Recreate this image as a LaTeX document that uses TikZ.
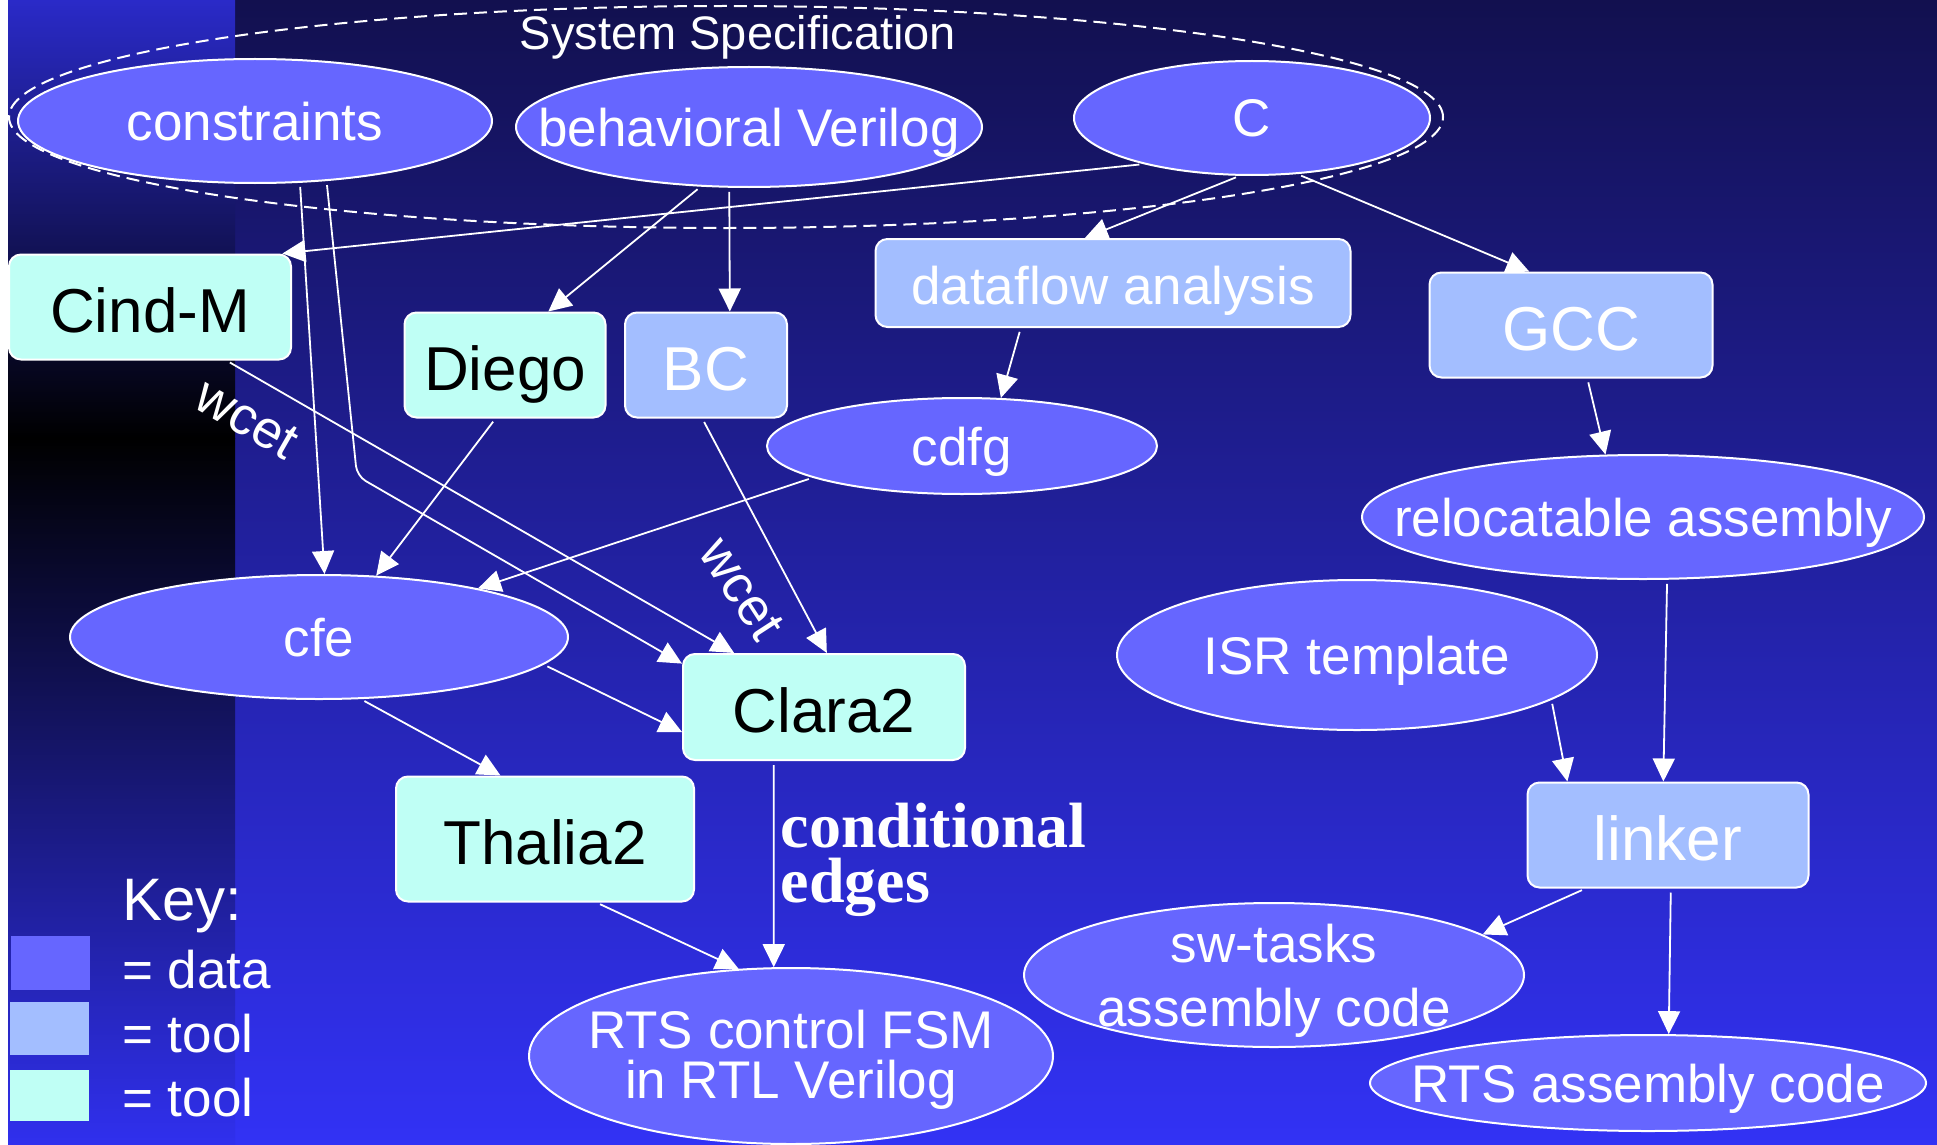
\documentclass[tikz,border=0pt]{standalone}
\usepackage{fontspec}
\setmainfont{Liberation Sans}
\newfontfamily\condserif{Liberation Serif}
\usepackage{tikz}
\usetikzlibrary{shapes.geometric,arrows.meta}

\definecolor{datablue}{HTML}{6666FF}
\definecolor{toolblue}{HTML}{A3BEFF}
\definecolor{toolcyan}{HTML}{BFFFF5}
\definecolor{bgtop}{HTML}{12104F}
\definecolor{bgbottom}{HTML}{3232F5}
\definecolor{striptop}{HTML}{2A2AC8}
\definecolor{stripbottom}{HTML}{3030EE}

\newcommand\datafont{\fontsize{53}{59}\selectfont}
\newcommand\toolfont{\fontsize{62}{70}\selectfont}

\begin{document}
\begin{tikzpicture}[x=1pt, y=-1pt,
    datanode/.style={ellipse, draw=white, line width=2pt, fill=datablue, inner sep=0pt},
    datatext/.style={text=white, font=\datafont, align=center, inner sep=0pt, text depth=0pt},
    tool/.style={rectangle, rounded corners=12pt, draw=white, line width=2pt, inner sep=0pt,
        font=\toolfont, text height=50pt, text depth=0pt},
    lighttool/.style={tool, fill=toolblue, text=white},
    cyantool/.style={tool, fill=toolcyan, text=black},
    keytext/.style={text=white, font=\datafont, anchor=base west, inner sep=0pt},
    wcetlabel/.style={text=white, font=\datafont, inner sep=0pt},
    condlabel/.style={text=white, font=\condserif\bfseries\fontsize{64}{55}\selectfont, align=left, inner sep=0pt},
    flowedge/.style={draw=white, line width=1.8pt, -{Triangle[length=23pt,width=22pt]}, shorten <=4pt}]

    \useasboundingbox (0,0) rectangle (1937,1145);
    % background
    \fill[white] (0,0) rectangle (1937,1145);
    \shade[top color=bgtop, bottom color=bgbottom] (8,0) rectangle (1937,1145);
    \shade[top color=striptop, bottom color=black] (8,0) rectangle (235,438);
    \shade[top color=black, bottom color=stripbottom] (8,438) rectangle (235,1145);

    % system specification
    \node[ellipse, draw=white, line width=2pt, dash pattern=on 13pt off 7pt,
          minimum width=1434pt, minimum height=222pt, inner sep=0pt] (sysspec) at (726,117) {};
    \node[text=white, font=\fontsize{47}{55}\selectfont, anchor=base] (spectitle) at (738,50) {System Specification};

    % data
    \node[datanode, minimum width=474pt, minimum height=124pt, label={[datatext]center:constraints}] (constraints) at (255,121) {};
    \node[datanode, minimum width=466pt, minimum height=120pt, label={[datatext]center:behavioral Verilog}] (behavioral) at (749,127) {};
    \node[datanode, minimum width=356pt, minimum height=114pt, label={[datatext]center:C}] (cnode) at (1252,118) {};
    \node[datanode, minimum width=390pt, minimum height=96pt, label={[datatext]center:cdfg}] (cdfg) at (962,446) {};
    \node[datanode, minimum width=562pt, minimum height=124pt, label={[datatext]center:relocatable assembly}] (reloc) at (1643,517) {};
    \node[datanode, minimum width=498pt, minimum height=124pt, label={[datatext]center:cfe}] (cfe) at (319,637) {};
    \node[datanode, minimum width=480pt, minimum height=150pt, label={[datatext]center:ISR template}] (isr) at (1357,655) {};
    \node[datanode, minimum width=500pt, minimum height=144pt,
          label={[datatext, font=\fontsize{53}{64}\selectfont]center:{sw-tasks\\assembly code}}] (swtasks) at (1274,975) {};
    \node[datanode, minimum width=524pt, minimum height=176pt,
          label={[datatext, font=\fontsize{53}{50}\selectfont, yshift=2pt]center:{RTS control FSM\\in RTL Verilog}}] (rtsfsm) at (791,1056) {};
    \node[datanode, minimum width=556pt, minimum height=96pt, label={[datatext]center:RTS assembly code}] (rtsasm) at (1648,1083) {};

    % tools
    \node[cyantool, minimum width=282pt, minimum height=105pt] (cindm) at (150,307) {Cind-M};
    \node[cyantool, minimum width=201pt, minimum height=105pt] (diego) at (505,365) {Diego};
    \node[lighttool, minimum width=162pt, minimum height=105pt] (bc) at (706,365) {BC};
    \node[lighttool, minimum width=475pt, minimum height=88pt, font=\datafont, text height=42pt] (dataflow) at (1113,283) {dataflow analysis};
    \node[lighttool, minimum width=283pt, minimum height=105pt] (gcc) at (1571,325) {GCC};
    \node[cyantool, minimum width=282pt, minimum height=106pt] (clara) at (824,707) {Clara2};
    \node[cyantool, minimum width=298pt, minimum height=125pt] (thalia) at (545,839) {Thalia2};
    \node[lighttool, minimum width=281pt, minimum height=105pt] (linker) at (1668,835) {linker};

    % key
    \node[text=white, font=\fontsize{60}{70}\selectfont, anchor=base west, inner sep=0pt] (keytitle) at (122,920) {Key:};
    \node[fill=datablue, minimum width=79pt, minimum height=54pt, inner sep=0pt] (keydata) at (50.5,963) {};
    \node[fill=toolblue, minimum width=79pt, minimum height=53pt, inner sep=0pt] (keytool) at (49,1028.5) {};
    \node[fill=toolcyan, minimum width=79pt, minimum height=51pt, inner sep=0pt] (keycyan) at (49,1095.5) {};
    \node[keytext] (keydatatext) at (122,988) {= data};
    \node[keytext] (keytooltext) at (122,1052) {= tool};
    \node[keytext] (keycyantext) at (122,1116) {= tool};

    % edges
    \coordinate (bend) at (357,476);
    \draw (constraints.-54) edge[flowedge] (cfe.85);
    \draw[flowedge, rounded corners=10pt] (constraints.-40) -- (bend) -- (clara.163);
    \draw (cindm.-35) edge[flowedge] node[wcetlabel, pos=.08, sloped, below=22pt] {wcet} (clara.149);
    \draw (cnode.203) edge[flowedge] (cindm.22);
    \draw (behavioral.-129) edge[flowedge] (diego.51);
    \draw (behavioral.-108.5) edge[flowedge] (bc.66);
    \draw (cnode.-102) edge[flowedge] (dataflow.122.5);
    \draw (cnode.-51.4) edge[flowedge] (gcc.128);
    \draw (dataflow.-154.7) edge[flowedge] (cdfg.51);
    \draw (gcc.-73) edge[flowedge] (reloc.121.7);
    \draw (diego.-100.8) edge[flowedge] (cfe.47.7);
    \draw (cdfg.192.3) edge[flowedge] (cfe.17);
    \draw (bc.-94.4) edge[flowedge] node[wcetlabel, pos=.63, sloped, below=27pt, rotate=5] {wcet} (clara.87.8);
    \draw (cfe.-7.7) edge[flowedge] (clara.190);
    \draw (cfe.-56.8) edge[flowedge] (thalia.125);
    \draw (thalia.-51.9) edge[flowedge] (rtsfsm.121);
    \draw (clara.-133.3) edge[flowedge] node[condlabel, pos=.48, right=6pt] {conditional\\edges} (rtsfsm.101);
    \draw (reloc.-69.6) edge[flowedge] (linker.95.4);
    \draw (isr.-13.7) edge[flowedge] (linker.152.5);
    \draw (linker.-147.7) edge[flowedge] (swtasks.11.5);
    \draw (linker.-87.8) edge[flowedge] (rtsasm.67.3);
\end{tikzpicture}
\end{document}
